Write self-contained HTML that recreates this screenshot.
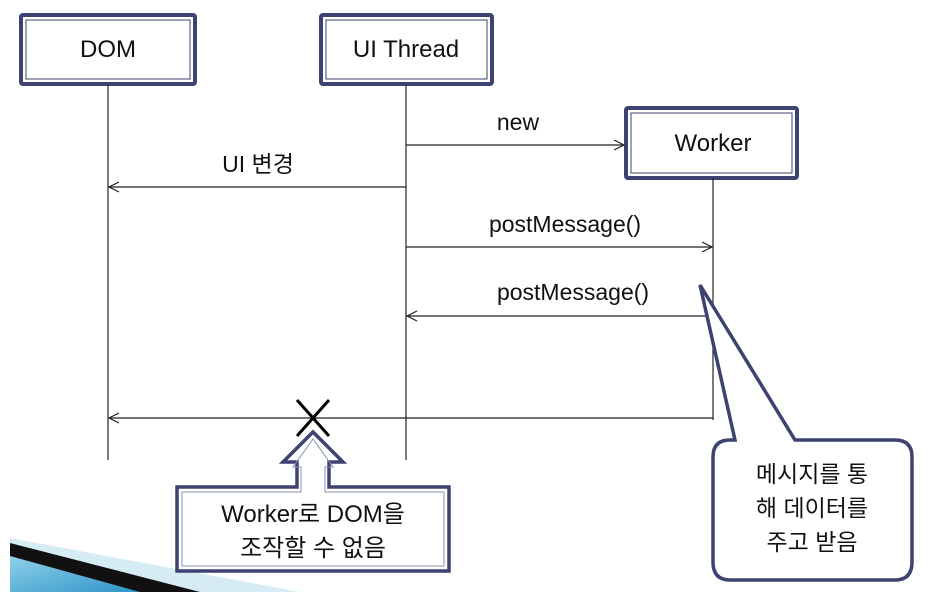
<!DOCTYPE html>
<html><head><meta charset="utf-8"><style>
body{margin:0;background:#fff;}
svg text{font-family:"Liberation Sans","Noto Sans CJK KR",sans-serif;fill:#111;}
</style></head><body>
<svg width="943" height="592" viewBox="0 0 943 592" xmlns="http://www.w3.org/2000/svg">
<defs>
<linearGradient id="bg" x1="0" y1="0" x2="1" y2="1">
<stop offset="0" stop-color="#8fd0ea"/><stop offset="1" stop-color="#2f95c8"/></linearGradient>
</defs>
<!-- decorative wedge -->
<polygon points="10,538 300,592 10,592" fill="#d6ecf5"/>
<polygon points="10,543 200,592 10,592" fill="#111"/>
<polygon points="10,556 140,592 10,592" fill="url(#bg)"/>
<!-- boxes -->
<g fill="#fff" stroke="#3d4270">
<rect x="21" y="15" width="174" height="69" stroke-width="4" rx="2"/>
<rect x="26" y="20" width="164" height="59" stroke-width="1"/>
<rect x="321" y="15" width="171" height="69" stroke-width="4" rx="2"/>
<rect x="326" y="20" width="161" height="59" stroke-width="1"/>
<rect x="626" y="108" width="171" height="70" stroke-width="4" rx="2"/>
<rect x="631" y="113" width="161" height="60" stroke-width="1"/>
</g>
<text x="108" y="57" font-size="24" text-anchor="middle">DOM</text>
<text x="406" y="57" font-size="24" text-anchor="middle">UI Thread</text>
<text x="713" y="151" font-size="24" text-anchor="middle">Worker</text>
<!-- lifelines -->
<g stroke="#222" stroke-width="1.2" fill="none">
<line x1="108" y1="85" x2="108" y2="460"/>
<line x1="406" y1="85" x2="406" y2="460"/>
<line x1="713" y1="178" x2="713" y2="420"/>
<line x1="406" y1="145" x2="624" y2="145"/><polyline points="614,140 624,145 614,150"/>
<line x1="406" y1="187" x2="109" y2="187"/><polyline points="119,182 109,187 119,192"/>
<line x1="406" y1="247" x2="712" y2="247"/><polyline points="702,242 712,247 702,252"/>
<line x1="713" y1="316" x2="407" y2="316"/><polyline points="417,311 407,316 417,321"/>
<line x1="713" y1="418" x2="109" y2="418"/><polyline points="119,413 109,418 119,423"/>
</g>
<text x="518" y="130" font-size="23" text-anchor="middle">new</text>
<text x="258" y="172" font-size="23" text-anchor="middle">UI 변경</text>
<text x="565" y="232" font-size="23" text-anchor="middle">postMessage()</text>
<text x="573" y="300" font-size="23" text-anchor="middle">postMessage()</text>
<!-- X -->
<g stroke="#000" stroke-width="3"><line x1="297" y1="400" x2="329" y2="436"/><line x1="329" y1="400" x2="297" y2="436"/></g>
<!-- left callout -->
<path d="M177,487 L297,487 L297,462 L283,462 L313,432 L343,462 L329,462 L329,487 L449,487 L449,571 L177,571 Z" fill="#fff" stroke="#3d4270" stroke-width="3.5"/>
<path d="M182,492 L301,492 L301,467 L293,467 L313,439 L333,467 L325,467 L325,492 L444,492 L444,566 L182,566 Z" fill="none" stroke="#8890b0" stroke-width="1"/>
<text x="313" y="522" font-size="24" text-anchor="middle">Worker로 DOM을</text>
<text x="313" y="556" font-size="24" text-anchor="middle">조작할 수 없음</text>
<!-- right callout -->
<path d="M735,440 L700,285 L795,440 L895,440 Q912,440 912,457 L912,562 Q912,580 895,580 L730,580 Q713,580 713,562 L713,457 Q713,440 730,440 Z" fill="#fff" stroke="#3d4270" stroke-width="3.5"/>
<text x="812" y="482" font-size="23" text-anchor="middle">메시지를 통</text>
<text x="812" y="516" font-size="23" text-anchor="middle">해 데이터를</text>
<text x="812" y="550" font-size="23" text-anchor="middle">주고 받음</text>
</svg>
</body></html>
